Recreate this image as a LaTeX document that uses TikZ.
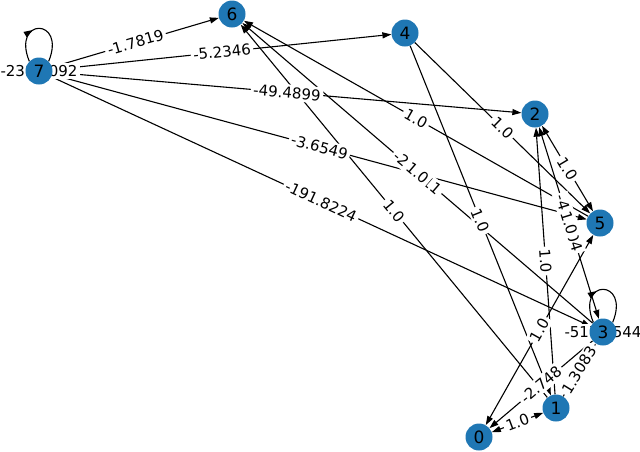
\documentclass[tikz,border=0pt]{standalone}
\usepackage{fontspec}
\setmainfont{DejaVu Sans}
\usetikzlibrary{arrows.meta,decorations.markings}
\definecolor{nxblue}{HTML}{1F77B4}
\pgfdeclarelayer{edgelayer}
\pgfdeclarelayer{labellayer}
\pgfsetlayers{edgelayer,labellayer,main}
\begin{document}
\begin{tikzpicture}[x=1pt,y=-1pt,
  vert/.style={circle,fill=nxblue,minimum size=27pt,inner sep=0pt,font=\fontsize{17}{17}\selectfont},
  edge/.style={draw=black,line width=1.1pt,-{Triangle[length=9pt,width=6pt]}},
  bedge/.style={draw=black,line width=1.1pt,{Triangle[length=9pt,width=6pt]}-{Triangle[length=9pt,width=6pt]}},
  loopedge/.style={draw=black,line width=1.1pt,decoration={markings,mark=at position 0.42 with {\arrow{Triangle[length=9pt,width=6pt]}}},postaction={decorate}},
  elab/.style={fill=white,inner sep=2.5pt,font=\fontsize{15}{16}\selectfont,sloped,midway},
  llab/.style={fill=white,inner sep=2.5pt,font=\fontsize{15}{16}\selectfont}]
\useasboundingbox (0,0) rectangle (640,451);
\node[vert] (n0) at (479,437) {0};
\node[vert] (n1) at (556,408) {1};
\node[vert] (n2) at (535,114) {2};
\node[vert] (n3) at (603,332) {3};
\node[vert] (n4) at (405,33) {4};
\node[vert] (n5) at (600,223) {5};
\node[vert] (n6) at (232,14) {6};
\node[vert] (n7) at (39,71) {7};
\begin{pgfonlayer}{edgelayer}
\draw[edge] (n7) -- (n6);
\draw[edge] (n7) -- (n4);
\draw[edge] (n7) -- (n2);
\draw[edge] (n7) -- (n5);
\draw[edge] (n7) -- (n3);
\draw[edge] (n1) -- (n6);
\draw[edge] (n3) -- (n6);
\draw[edge] (n5) -- (n6);
\draw[edge] (n4) -- (n5);
\draw[edge] (n4) -- (n1);
\draw[bedge] (n2) -- (n5);
\draw[bedge] (n2) -- (n3);
\draw[edge] (n1) -- (n2);
\draw[bedge] (n0) -- (n1);
\draw[bedge] (n0) -- (n5);
\draw[edge] (n3) -- (n0);
\draw[edge] (n1) -- (n3);
\draw[loopedge] (n7.135) .. controls +(-18,-44) and +(18,-44) .. (n7.45);
\draw[loopedge] (n3.135) .. controls +(-18,-44) and +(18,-44) .. (n3.45);
\end{pgfonlayer}
\begin{pgfonlayer}{labellayer}
\node[llab] (l77) at (n7.center) {-239.5092};
\node[llab] (l33) at (n3.center) {-517.3544};
\path (n7) -- node[elab] (l76) {-1.7819} (n6);
\path (n7) -- node[elab] (l74) {-5.2346} (n4);
\path (n7) -- node[elab] (l72) {-49.4899} (n2);
\path (n7) -- node[elab] (l75) {-3.6549} (n5);
\path (n7) -- node[elab] (l73) {-191.8224} (n3);
\path (n1) -- node[elab] (l16) {1.0} (n6);
\path (n6) -- node[elab] (l63) {-2.0311} (n3);
\path (n3) -- node[elab] (l36) {1.0} (n6);
\path (n5) -- node[elab] (l56) {1.0} (n6);
\path (n4) -- node[elab] (l45) {1.0} (n5);
\path (n4) -- node[elab] (l41) {1.0} (n1);
\path (n2) -- node[elab] (l25) {1.0} (n5);
\path (n3) -- node[elab] (l32) {-4.0504} (n2);
\path (n2) -- node[elab] (l23) {1.0} (n3);
\path (n1) -- node[elab] (l12) {1.0} (n2);
\path (n0) -- node[elab] (l01) {1.0} (n1);
\path (n0) -- node[elab] (l05) {1.0} (n5);
\path (n3) -- node[elab] (l30) {-2.748} (n0);
\path (n1) -- node[elab] (l13) {1.3083} (n3);
\end{pgfonlayer}
\end{tikzpicture}
\end{document}
